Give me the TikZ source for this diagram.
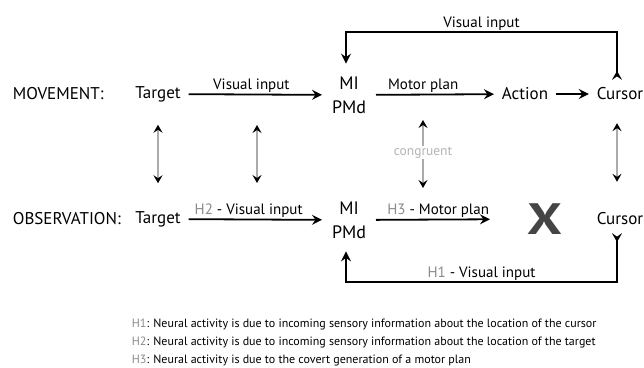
\documentclass[tikz,border=0pt]{standalone}
\usepackage{fontspec}
\setmainfont{PT Sans}
\usepackage{tikz}
\usetikzlibrary{arrows.meta}

\definecolor{hgray}{HTML}{8A8A8A}
\definecolor{linkgray}{HTML}{ABABAB}
\definecolor{conggray}{HTML}{B4B4B4}
\definecolor{xgray}{HTML}{454545}

\newcommand*{\hyp}[1]{\textcolor{hgray}{#1}}

\begin{document}
\begin{tikzpicture}[x=1pt,y=-1pt]
		\tikzstyle{every path}=[line width=1.8pt]
		\tikzstyle{MainSty}=[-{Stealth[length=10pt,width=10pt,inset=3.5pt]}]
		\tikzstyle{FeedSty}=[{Stealth[reversed,length=9pt,width=10pt,inset=3.5pt]}-{Stealth[length=10pt,width=10pt,inset=3.5pt]}]
		\tikzstyle{LinkSty}=[draw=linkgray,line width=1.2pt,
								  {Stealth[color=black,length=8pt,width=9pt,inset=3pt]}-{Stealth[color=black,length=8pt,width=9pt,inset=3pt]}]

		\tikzstyle{rowlab}=[anchor=west,inner sep=2pt,font=\fontsize{17}{20}\selectfont]
		\tikzstyle{word}=[inner sep=2pt,outer sep=6pt,font=\fontsize{17}{20}\selectfont]
		\tikzstyle{region}=[inner sep=2pt,outer sep=8pt,align=center,
								  font=\fontsize{18}{24}\selectfont]
		\tikzstyle{arrlab}=[above,inner sep=2pt,outer sep=0pt,
								  font=\fontsize{15}{18}\selectfont]
		\tikzstyle{xmark}=[inner sep=2pt,text=xgray,xscale=1.25,
								  font=\fontsize{44}{44}\selectfont\bfseries]
		\tikzstyle{keyline}=[anchor=west,inner sep=0pt,font=\fontsize{12}{14}\selectfont]

\useasboundingbox (0,0) rectangle (644,367);

\coordinate (topbar) at (0,32);
\coordinate (botbar) at (0,282);

% Movement row
	\node [rowlab] (movlab) at (10,94) {MOVEMENT:};
	\node [word] (tgt1) at (158,94) {Target};
	\node [region] (mi1) at (349,95) {MI\\PMd};
	\node [word] (act) at (525,94) {Action};
	\node [word] (cur1) at (620,94) {Cursor};

% Observation row
	\node [rowlab] (obslab) at (10,219) {OBSERVATION:};
	\node [word] (tgt2) at (158,219) {Target};
	\node [region] (mi2) at (349,220) {MI\\PMd};
	\node [xmark] (none) at (545,219) {X};
	\node [word] (cur2) at (620,219) {Cursor};

% Hypotheses
	\node [keyline] (hone) at (131,324) {\hyp{H1}: Neural activity is due to incoming sensory information about the location of the cursor};
	\node [keyline] (htwo) at (131,342) {\hyp{H2}: Neural activity is due to incoming sensory information about the location of the target};
	\node [keyline] (hthree) at (131,360) {\hyp{H3}: Neural activity is due to the covert generation of a motor plan};

% ends of the links between the arrows
\coordinate (vin1) at (257,94);
\coordinate (vin2) at (257,219);
\coordinate (mp1) at (423,94);
\coordinate (mp2) at (423,219);

	\path[MainSty] (tgt1) edge node[arrlab,pos=.47] {Visual input} (mi1);
	\path[MainSty] (mi1) edge node[arrlab,pos=.40] {Motor plan} (act);
	\path[MainSty] (act) edge (cur1);
	\path[MainSty] (tgt2) edge node[arrlab,pos=.45] {\hyp{H2} - Visual input} (mi2);
	\path[MainSty] (mi2) edge[shorten >=34pt] node[arrlab,pos=.42] {\hyp{H3} - Motor plan} (none);

	\draw[FeedSty,shorten >=3pt] ([xshift=-3pt]cur1.north) -- ([xshift=-3pt]cur1.north |- topbar)
		-- node[arrlab] {Visual input} ([xshift=-3pt]mi1.north |- topbar) -- ([xshift=-3pt]mi1.north);
	\draw[FeedSty,shorten >=3pt] ([xshift=-3pt]cur2.south) -- ([xshift=-3pt]cur2.south |- botbar)
		-- node[arrlab] {\hyp{H1} - Visual input} ([xshift=-3pt]mi2.south |- botbar) -- ([xshift=-3pt]mi2.south);

	\path (tgt1) edge[LinkSty,shorten <=15pt,shorten >=20pt] (tgt2);
	\path (vin1) edge[LinkSty,shorten <=31pt,shorten >=36pt] (vin2);
	\path (mp1) edge[LinkSty,shorten <=26pt,shorten >=31pt] node[pos=.47,fill=white,inner sep=1pt,text=conggray,font=\fontsize{13.5}{16}\selectfont] {congruent} (mp2);
	\path ([xshift=-3pt]cur1.south) edge[LinkSty,shorten <=15pt,shorten >=23pt] ([xshift=-3pt]cur2.north);

\end{tikzpicture}
\end{document}
